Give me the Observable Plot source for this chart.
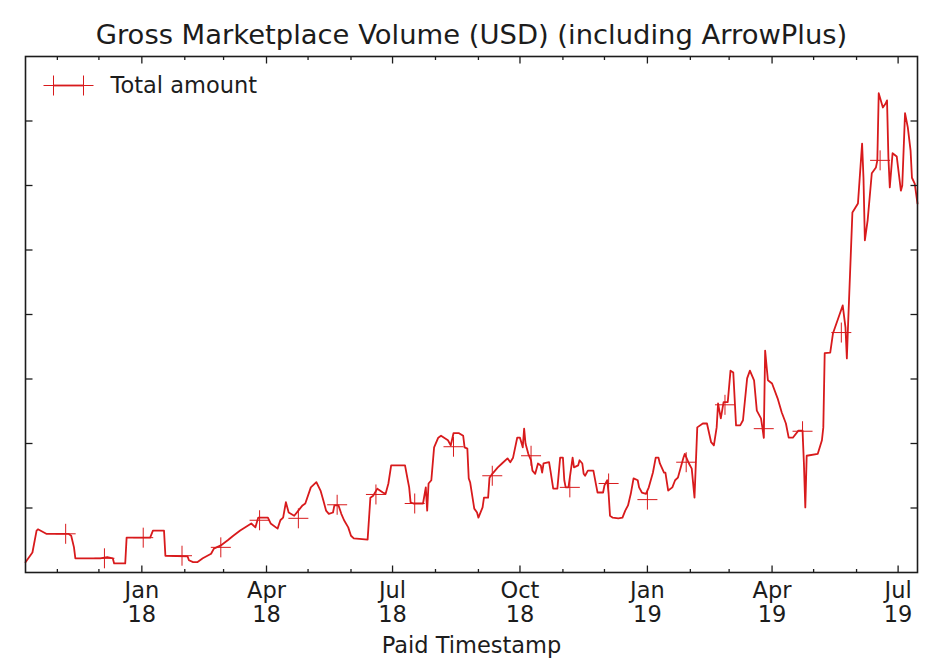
<!DOCTYPE html>
<html>
<head>
<meta charset="utf-8">
<script src="https://cdn.jsdelivr.net/npm/d3@7"></script>
<script src="https://cdn.jsdelivr.net/npm/@observablehq/plot@0.6"></script>
<style>
  html, body { margin: 0; padding: 0; background: #ffffff; }
  #chart svg { display: block; }
</style>
</head>
<body>
<div id="chart"></div>
<script>
// ---- Data ----
const title = "Gross Marketplace Volume (USD) (including ArrowPlus)";
const xLabel = "Paid Timestamp";
const seriesName = "Total amount";

const dates = [
  "2017-10-09","2017-10-14","2017-10-17","2017-10-18","2017-10-24","2017-11-09","2017-11-11","2017-11-13","2017-11-14","2017-12-02",
  "2017-12-07","2017-12-11","2017-12-12","2017-12-20","2017-12-21","2018-01-07","2018-01-09","2018-01-17","2018-01-18","2018-02-03",
  "2018-02-04","2018-02-07","2018-02-10","2018-02-14","2018-02-20","2018-02-22","2018-02-27","2018-03-04","2018-03-08","2018-03-13",
  "2018-03-21","2018-03-24","2018-03-26","2018-04-02","2018-04-04","2018-04-09","2018-04-11","2018-04-13","2018-04-15","2018-04-17",
  "2018-04-21","2018-04-24","2018-04-27","2018-04-29","2018-05-03","2018-05-07","2018-05-10","2018-05-12","2018-05-14","2018-05-16",
  "2018-05-19","2018-05-20","2018-05-23","2018-05-25","2018-05-27","2018-05-30","2018-06-01","2018-06-03","2018-06-13","2018-06-15",
  "2018-06-17","2018-06-20","2018-06-24","2018-06-26","2018-06-28","2018-06-30","2018-07-10","2018-07-12","2018-07-13","2018-07-14",
  "2018-07-16","2018-07-23","2018-07-25","2018-07-26","2018-07-27","2018-07-29","2018-07-31","2018-08-03","2018-08-05","2018-08-10",
  "2018-08-12","2018-08-14","2018-08-18","2018-08-21","2018-08-22","2018-08-24","2018-08-25","2018-08-26","2018-08-29","2018-08-31",
  "2018-09-01","2018-09-04","2018-09-05","2018-09-08","2018-09-09","2018-09-11","2018-09-15","2018-09-18","2018-09-22","2018-09-24",
  "2018-09-26","2018-09-29","2018-10-01","2018-10-03","2018-10-04","2018-10-05","2018-10-07","2018-10-09","2018-10-10","2018-10-12",
  "2018-10-14","2018-10-16","2018-10-17","2018-10-18","2018-10-22","2018-10-23","2018-10-25","2018-10-28","2018-10-30","2018-11-01",
  "2018-11-02","2018-11-03","2018-11-05","2018-11-08","2018-11-09","2018-11-12","2018-11-13","2018-11-15","2018-11-16","2018-11-17",
  "2018-11-19","2018-11-23","2018-11-25","2018-11-26","2018-11-30","2018-12-01","2018-12-03","2018-12-04","2018-12-05","2018-12-07",
  "2018-12-11","2018-12-14","2018-12-16","2018-12-18","2018-12-20","2018-12-22","2018-12-25","2018-12-26","2018-12-28","2018-12-31",
  "2019-01-02","2019-01-05","2019-01-07","2019-01-09","2019-01-10","2019-01-13","2019-01-14","2019-01-16","2019-01-19","2019-01-21",
  "2019-01-23","2019-01-27","2019-01-28","2019-01-31","2019-02-02","2019-02-04","2019-02-06","2019-02-10","2019-02-13","2019-02-16",
  "2019-02-18","2019-02-20","2019-02-21","2019-02-23","2019-02-25","2019-02-28","2019-03-02","2019-03-04","2019-03-06","2019-03-09",
  "2019-03-11","2019-03-14","2019-03-16","2019-03-19","2019-03-21","2019-03-24","2019-03-25","2019-03-26","2019-03-27","2019-03-29",
  "2019-04-01","2019-04-05","2019-04-08","2019-04-11","2019-04-13","2019-04-16","2019-04-20","2019-04-23","2019-04-24","2019-04-25",
  "2019-04-26","2019-05-04","2019-05-07","2019-05-08","2019-05-09","2019-05-13","2019-05-15","2019-05-22","2019-05-24","2019-05-25",
  "2019-05-26","2019-05-29","2019-06-02","2019-06-05","2019-06-06","2019-06-07","2019-06-09","2019-06-12","2019-06-15","2019-06-16",
  "2019-06-17","2019-06-20","2019-06-22","2019-06-23","2019-06-24","2019-06-25","2019-06-27","2019-06-30","2019-07-03","2019-07-04",
  "2019-07-06","2019-07-08","2019-07-10","2019-07-11","2019-07-13","2019-07-15"
];

const amounts = [
  0.16,0.31,0.65,0.67,0.60,0.60,0.57,0.39,0.22,0.22,
  0.24,0.22,0.14,0.14,0.54,0.54,0.65,0.65,0.26,0.25,
  0.19,0.16,0.16,0.22,0.29,0.37,0.42,0.50,0.57,0.65,
  0.76,0.70,0.85,0.85,0.76,0.68,0.81,0.85,1.09,0.93,
  0.88,0.96,1.04,1.07,1.32,1.40,1.27,1.12,0.96,0.91,
  0.93,1.04,1.04,0.91,0.81,0.70,0.57,0.53,0.51,1.16,
  1.19,1.30,1.24,1.22,1.38,1.66,1.66,1.43,1.32,1.09,
  1.07,1.07,1.32,0.96,1.38,1.43,1.94,2.09,2.12,2.05,
  1.97,2.16,2.16,2.12,1.94,1.92,1.46,1.40,0.99,0.93,
  0.85,1.01,1.16,1.16,1.47,1.53,1.63,1.69,1.77,1.71,
  1.78,2.09,2.09,1.94,2.23,2.00,1.84,1.74,1.58,1.53,
  1.69,1.66,1.55,1.69,1.71,1.58,1.30,1.30,1.78,1.78,
  1.43,1.32,1.32,1.78,1.63,1.66,1.74,1.69,1.53,1.50,
  1.58,1.58,1.35,1.24,1.24,1.35,1.43,1.22,0.88,0.85,
  0.84,0.85,0.96,1.04,1.22,1.46,1.43,1.32,1.24,1.22,
  1.32,1.55,1.78,1.78,1.69,1.55,1.55,1.27,1.32,1.43,
  1.47,1.78,1.84,1.69,1.61,1.16,2.25,2.31,2.31,2.02,
  1.97,2.25,2.62,2.39,2.64,2.64,3.13,3.10,2.28,2.28,
  2.36,3.01,3.13,2.98,2.51,2.39,2.25,2.09,3.44,2.98,
  2.93,2.70,2.48,2.31,2.09,2.09,2.20,2.20,1.69,1.01,
  1.81,1.84,2.05,2.25,3.40,3.41,3.71,4.14,3.80,3.32,
  3.91,5.58,5.72,6.65,6.12,5.15,5.46,6.19,6.28,6.39,
  7.43,7.21,7.27,7.32,6.43,5.97,6.50,6.45,5.92,6.00,
  7.12,6.90,6.54,6.12,6.03,5.72
];

const markerDates = [
  "2017-11-07","2017-12-05","2018-01-02","2018-01-30","2018-02-27","2018-03-27","2018-04-24","2018-05-22",
  "2018-06-19","2018-07-17","2018-08-14","2018-09-11","2018-10-09","2018-11-06","2018-12-04","2019-01-01",
  "2019-01-29","2019-02-26","2019-03-26","2019-04-23","2019-05-21","2019-06-18"
];
const markerAmounts = [
  0.60,0.22,0.54,0.26,0.39,0.81,0.84,1.05,
  1.21,1.07,1.95,1.50,1.81,1.32,1.38,1.13,
  1.71,2.60,2.23,2.19,3.72,6.39
];

const majorTickDates = ["2018-01-01","2018-04-01","2018-07-01","2018-10-01","2019-01-01","2019-04-01","2019-07-01"];
const majorTickLabels = ["Jan\n18","Apr\n18","Jul\n18","Oct\n18","Jan\n19","Apr\n19","Jul\n19"];
const minorTickDates = ["2017-11-01","2017-12-01","2018-02-01","2018-03-01","2018-05-01","2018-06-01","2018-08-01",
  "2018-09-01","2018-11-01","2018-12-01","2019-02-01","2019-03-01","2019-05-01","2019-06-01"];
const yDomain = [0, 8];
const yTicks = [1, 2, 3, 4, 5, 6, 7];

// ---- Build tables ----
const parse = d3.utcParse("%Y-%m-%d");
const series = dates.map((d, i) => ({date: parse(d), amount: amounts[i]}));
const markers = markerDates.map((d, i) => ({date: parse(d), amount: markerAmounts[i]}));
const majorTicks = majorTickDates.map((d, i) => ({date: parse(d), label: majorTickLabels[i]}));
const minorTicks = minorTickDates.map(d => ({date: parse(d)}));
const yTickRows = yTicks.map(v => ({v}));

// custom line symbols (size = r^2 * PI)
const symbolFrom = (segs) => ({
  draw(ctx, size) {
    const r = Math.sqrt(size / Math.PI);
    for (const [x0, y0, x1, y1] of segs) { ctx.moveTo(x0 * r, y0 * r); ctx.lineTo(x1 * r, y1 * r); }
  }
});
const crossSym = symbolFrom([[-1, 0, 1, 0], [0, -1, 0, 1]]);
const upSym = symbolFrom([[0, 0, 0, -1]]);
const downSym = symbolFrom([[0, 0, 0, 1]]);
const rightSym = symbolFrom([[0, 0, 1, 0]]);
const leftSym = symbolFrom([[0, 0, -1, 0]]);
const hSym = symbolFrom([[-1, 0, 1, 0]]);

const RED = "#d81a1c";
const INK = "#1c1c1c";
const FONT = "DejaVu Sans";

const tickStyle = {fill: "none", stroke: INK, strokeWidth: 1.3};

const chart = Plot.plot({
  width: 933,
  height: 658,
  marginLeft: 25,
  marginRight: 16,
  marginTop: 56,
  marginBottom: 86,
  style: {fontFamily: FONT, background: "#ffffff", color: INK},
  x: {type: "utc", axis: null},
  y: {domain: yDomain, axis: null},
  marks: [
    Plot.line(series, {x: "date", y: "amount", stroke: RED, strokeWidth: 1.8}),
    Plot.dot(markers, {x: "date", y: "amount", symbol: crossSym, r: 10, fill: "none", stroke: RED, strokeWidth: 1}),
    // ticks (inward, all four sides)
    Plot.dot(majorTicks, {x: "date", frameAnchor: "bottom", symbol: upSym, r: 7, ...tickStyle}),
    Plot.dot(majorTicks, {x: "date", frameAnchor: "top", symbol: downSym, r: 7, ...tickStyle}),
    Plot.dot(minorTicks, {x: "date", frameAnchor: "bottom", symbol: upSym, r: 3.5, ...tickStyle}),
    Plot.dot(minorTicks, {x: "date", frameAnchor: "top", symbol: downSym, r: 3.5, ...tickStyle}),
    Plot.dot(yTickRows, {y: "v", frameAnchor: "left", symbol: rightSym, r: 7, ...tickStyle}),
    Plot.dot(yTickRows, {y: "v", frameAnchor: "right", symbol: leftSym, r: 7, ...tickStyle}),
    Plot.frame({stroke: INK, strokeWidth: 1.6}),
    // tick labels
    Plot.text(majorTicks, {x: "date", text: "label", frameAnchor: "bottom", lineAnchor: "top", dy: 9,
      lineHeight: 1.05, fontSize: 22.5, fill: INK}),
    // axis label
    Plot.text([xLabel], {text: d => d, frameAnchor: "bottom", lineAnchor: "bottom", dy: 80, fontSize: 22.5, fill: INK}),
    // title
    Plot.text([title], {text: d => d, frameAnchor: "top", lineAnchor: "bottom", dy: -13, fontSize: 27.4, fill: INK}),
    // legend
    Plot.dot([seriesName], {frameAnchor: "top-left", dx: 43, dy: 29, symbol: hSym, r: 15, fill: "none", stroke: RED, strokeWidth: 1.8}),
    Plot.dot([seriesName], {frameAnchor: "top-left", dx: 28, dy: 29, symbol: crossSym, r: 10, fill: "none", stroke: RED, strokeWidth: 1}),
    Plot.dot([seriesName], {frameAnchor: "top-left", dx: 58, dy: 29, symbol: crossSym, r: 10, fill: "none", stroke: RED, strokeWidth: 1}),
    Plot.text([seriesName], {text: d => d, frameAnchor: "top-left", textAnchor: "start", lineAnchor: "bottom", dx: 85, dy: 36,
      fontSize: 22.5, fill: INK})
  ]
});

document.getElementById("chart").appendChild(chart);
</script>
</body>
</html>
